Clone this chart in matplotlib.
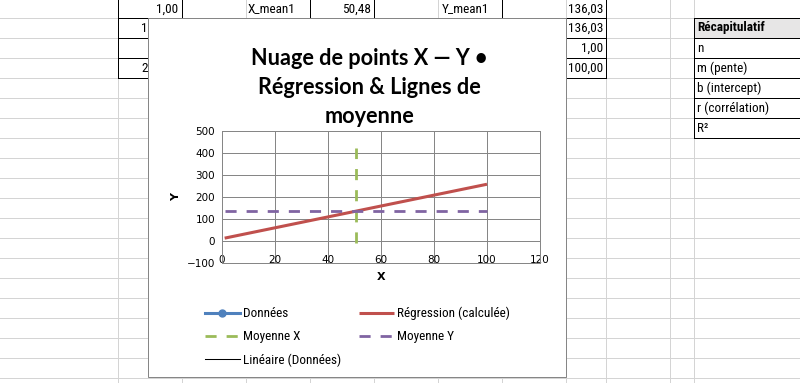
import matplotlib
matplotlib.use("Agg")
import matplotlib.pyplot as plt
from matplotlib import font_manager
from matplotlib.patches import Rectangle

# --- chart data -------------------------------------------------------
reg_x = [1, 100]
reg_y = [13, 258]
mean_x = 50.48
mean_y = 136.03
meanx_y = [-8, 422]
meany_x = [1, 100]
x_ticks = [0, 20, 40, 60, 80, 100, 120]
y_ticks = [-100, 0, 100, 200, 300, 400, 500]
title_lines = ["Nuage de points X — Y •", "Régression & Lignes de", "moyenne"]

# --- sheet content around the chart ----------------------------------
top_row = ["1,00", "X_mean1", "50,48", "Y_mean1", "136,03"]
left_cut = ["1", "", "2"]
right_vals = ["136,03", "136,03", "1,00", "100,00"]
recap = ["Récapitulatif", "n", "m (pente)", "b (intercept)", "r (corrélation)", "R²"]

names = {f.name for f in font_manager.fontManager.ttflist}
cell_font = "Lato"
for cand in ["Liberation Sans Narrow", "Roboto Condensed", "Lato"]:
    if cand in names:
        cell_font = cand
        break

W, H = 800, 383
fig = plt.figure(figsize=(W / 100, H / 100), dpi=100)
fig.patch.set_facecolor("white")

bg = fig.add_axes([0, 0, 1, 1])
bg.set_xlim(0, W)
bg.set_ylim(H, 0)
bg.axis("off")

grid_c = "#d4d4d4"
px = 0.72
cols = [118, 182, 246, 310, 374, 438, 502, 566, 606, 670, 694]
for c in cols:
    bg.plot([c, c], [0, H], color=grid_c, lw=px, zorder=1)
for r in range(18, H, 20):
    bg.plot([0, W], [r, r], color=grid_c, lw=px, zorder=1)

# black cell borders
for r in [18, 38, 58, 78]:
    bg.plot([118, 606], [r, r], color="black", lw=px, zorder=2)
for c in [118, 606]:
    bg.plot([c, c], [0, 78], color="black", lw=px, zorder=2)
for c in [182, 310, 374, 502]:
    bg.plot([c, c], [0, 18], color="black", lw=px, zorder=2)
bg.add_patch(Rectangle((694, 18), W - 694, 20, facecolor="#e7e6e6", edgecolor="none", zorder=1.5))
for r in [18, 38, 58, 78, 98, 118, 138]:
    bg.plot([694, W], [r, r], color="black", lw=px, zorder=2)
bg.plot([694, 694], [18, 138], color="black", lw=px, zorder=2)

fs = 9.5
cell_kw = dict(fontsize=fs, family=cell_font, va="center", zorder=3)
bg.text(178, 9, top_row[0], ha="right", **cell_kw)
bg.text(248, 9, top_row[1], ha="left", **cell_kw)
bg.text(371, 9, top_row[2], ha="right", **cell_kw)
bg.text(442, 9, top_row[3], ha="left", **cell_kw)
bg.text(603, 9, top_row[4], ha="right", **cell_kw)
for i, s in enumerate(left_cut):
    bg.text(141, 28 + 20 * i, s, ha="left", **cell_kw)
for i, s in enumerate(right_vals[1:]):
    bg.text(603, 28 + 20 * i, s, ha="right", **cell_kw)
for i, s in enumerate(recap):
    bg.text(697, 28 + 20 * i, s, ha="left",
            fontweight="bold" if i == 0 else "normal", **cell_kw)

# chart box
bg.add_patch(Rectangle((148, 17.5), 418, 359.5, facecolor="white",
                       edgecolor="#868686", lw=px, zorder=5))
for s, yb in zip(title_lines, [65, 94.5, 123]):
    bg.text(369, yb, s, ha="center", va="baseline", fontsize=15.6,
            fontweight="bold", family="Lato", zorder=6)

# --- plot area --------------------------------------------------------
ax = fig.add_axes([222 / W, 1 - 263 / H, 318 / W, 132 / H])
ax.set_zorder(10)
ax.patch.set_alpha(0)
gray = "#868686"
ax.plot([], [], color="#4F81BD", lw=2.2, marker="o", ms=5, label="Données")
ax.plot(reg_x, reg_y, color="#C0504D", lw=2.2, label="Régression (calculée)",
        solid_capstyle="butt")
ax.plot([mean_x, mean_x], meanx_y, color="#9BBB59", lw=2.0, dashes=(4, 3.6),
        label="Moyenne X")
ax.plot(meany_x, [mean_y, mean_y], color="#8064A2", lw=2.0, dashes=(4, 3.6),
        label="Moyenne Y")
ax.plot([], [], color="black", lw=0.75, label="Linéaire (Données)")

ax.set_xlim(0, 120)
ax.set_ylim(-100, 500)
ax.set_xticks(x_ticks)
ax.set_yticks(y_ticks)
ax.grid(True, color=gray, lw=px)
ax.set_axisbelow(True)
for sp in ax.spines.values():
    sp.set_color(gray)
    sp.set_linewidth(px)
ax.tick_params(length=0, labelsize=7.5, colors="black")
ax.tick_params(axis="x", pad=-5.5)
ax.tick_params(axis="y", pad=5)
for lab in ax.get_xticklabels() + ax.get_yticklabels():
    lab.set_family("DejaVu Sans")
ax.set_xlabel("X", fontsize=8, fontweight="bold", family="DejaVu Sans", labelpad=5)
ax.set_ylabel("Y", fontsize=8, fontweight="bold", family="DejaVu Sans", labelpad=4)

h, l = ax.get_legend_handles_labels()
order = [0, 2, 4, 1, 3]
ax.legend([h[i] for i in order], [l[i] for i in order], loc="upper left",
          bbox_to_anchor=(205 / W, 1 - 307 / H), bbox_transform=fig.transFigure,
          ncol=2, frameon=False, borderpad=0, borderaxespad=0,
          handlelength=2.65, handletextpad=0.25, columnspacing=1.3,
          labelspacing=0.75, prop={"family": cell_font, "size": 9.5})

fig.savefig("out.png", dpi=100)
